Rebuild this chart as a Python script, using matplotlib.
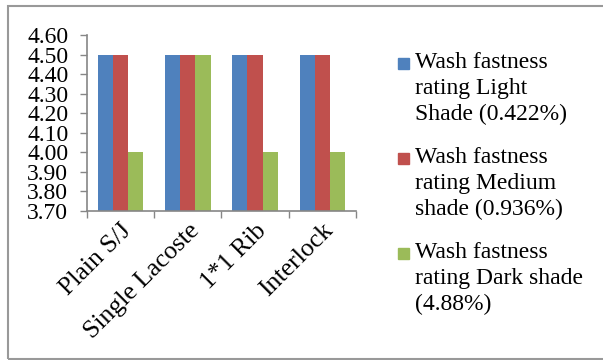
import matplotlib.pyplot as plt
import numpy as np

plt.rcParams['font.family'] = ['Liberation Serif', 'DejaVu Serif']

categories = ['Plain S/J', 'Single Lacoste', '1*1 Rib', 'Interlock']
light = [4.50, 4.50, 4.50, 4.50]
medium = [4.50, 4.50, 4.50, 4.50]
dark = [4.00, 4.50, 4.00, 4.00]
series_labels = ['Wash fastness\nrating Light\nShade (0.422%)',
                 'Wash fastness\nrating Medium\nshade (0.936%)',
                 'Wash fastness\nrating Dark shade\n(4.88%)']
colors = ['#4F81BD', '#C0504D', '#9BBB59']
fs = 17

fig = plt.figure(figsize=(6.03, 3.6), dpi=100)
ax = fig.add_axes([0.1443, 0.4139, 0.4459, 0.4889])

x = np.arange(len(categories))
w = 0.225
bottom = 3.70
for i, vals in enumerate([light, medium, dark]):
    ax.bar(x + (i - 1) * w, np.array(vals) - bottom, w, bottom=bottom,
           color=colors[i], label=series_labels[i])

ax.set_xlim(-0.5, len(categories) - 0.5)
ax.set_ylim(3.70, 4.60)
yt = np.arange(3.70, 4.61, 0.10)
ax.set_yticks(yt)
ax.set_yticklabels([f'{v:.2f}' for v in yt])

# tick marks at category boundaries, labels at centres
ax.set_xticks(x)
ax.set_xticklabels(categories, rotation=45, ha='right', va='top',
                   rotation_mode='anchor')
ax.set_xticks(np.arange(-0.5, len(categories)), minor=True)
ax.tick_params(axis='x', which='major', length=0, pad=6, labelsize=18.5)
ax.tick_params(axis='x', which='minor', length=5, color='#868686', width=1)
ax.tick_params(axis='y', length=5, color='#868686', width=1, pad=8.5, labelsize=17)

for s in ['top', 'right']:
    ax.spines[s].set_visible(False)
for s in ['left', 'bottom']:
    ax.spines[s].set_color('#868686')
    ax.spines[s].set_linewidth(1.2)

# legend drawn by hand so the swatch sits beside the first line
H, W = 360.0, 603.0
for i, lab in enumerate(series_labels):
    top = 57 + i * 95
    fig.patches.append(plt.Rectangle((398 / W, 1 - (top + 12) / H), 11 / W, 11 / H,
                                     transform=fig.transFigure, color=colors[i]))
    fig.text(415 / W, 1 - (top - 5) / H, lab, fontsize=fs, va='top', ha='left',
             linespacing=1.32)

fig.patches.append(plt.Rectangle((8 / W, 1 / H), 1.0, 1 - 7 / H, transform=fig.transFigure,
                                 fill=False, edgecolor='#999999', linewidth=1.5))

fig.savefig('out.png', dpi=100)
